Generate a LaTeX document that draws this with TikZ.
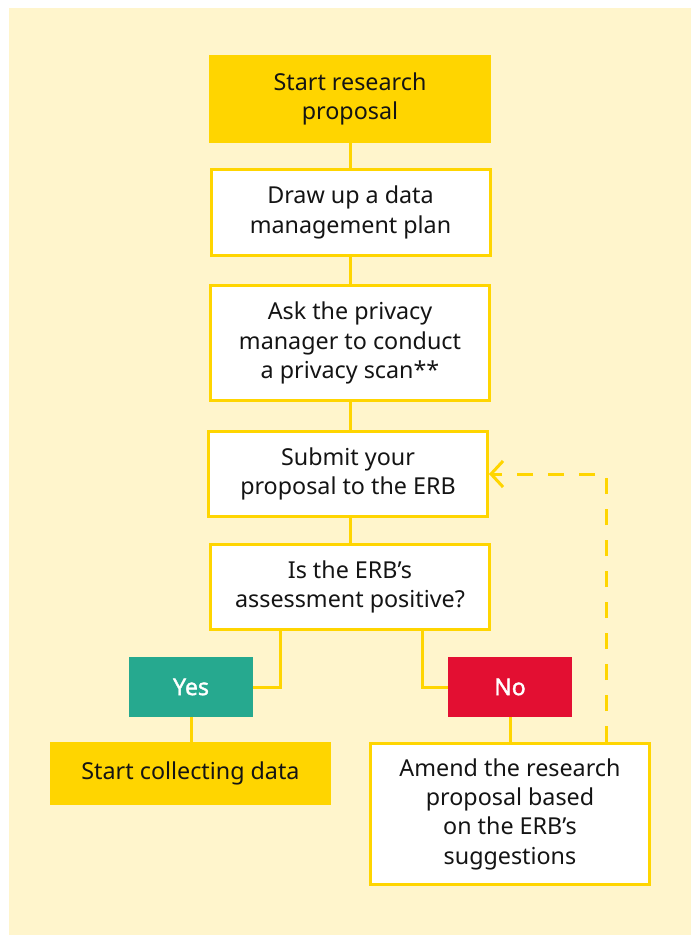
\documentclass[tikz,border=0pt]{standalone}
\usepackage{fontspec}
\setmainfont{Noto Sans}
\newfontfamily\tagfont[FakeBold=1.6]{Noto Sans}
\usetikzlibrary{arrows.meta}
\definecolor{cream}{HTML}{FFF5CC}
\definecolor{gold}{HTML}{FFD500}
\definecolor{teal}{HTML}{26A98F}
\definecolor{redbox}{HTML}{E30F32}
\definecolor{ink}{HTML}{141414}
\begin{document}
\begin{tikzpicture}[x=1pt,y=-1pt,
  every node/.style={font=\fontsize{23.3}{29.3}\selectfont, text=ink, align=center, inner sep=0pt},
  goldbox/.style={fill=gold, minimum width=282pt},
  whitebox/.style={fill=white, draw=gold, line width=3pt, minimum width=279pt},
  tagbox/.style={minimum width=124pt, minimum height=60pt, text=white, font=\fontsize{23}{28}\selectfont\tagfont},
  link/.style={draw=gold, line width=3pt},
  back/.style={draw=gold, line width=3pt, dash pattern=on 16pt off 15pt, -{Straight Barb[length=12pt,width=26pt,line width=3pt]}}
]
\useasboundingbox (0,0) rectangle (691,935);
\fill[white] (0,0) rectangle (691,935);
\fill[cream] (9,8) rectangle (691,935);

\node[goldbox, minimum height=88pt] (start) at (350,99) {Start research\\proposal};
\node[whitebox, minimum height=86pt] (dmp) at (350.5,212.5) {Draw up a data\\management plan};
\node[whitebox, minimum height=115pt] (scan) at (350,343) {Ask the privacy\\manager to conduct\\a privacy scan**};
\node[whitebox, minimum height=85pt] (submit) at (348,474) {Submit your\\proposal to the ERB};
\node[whitebox, minimum height=85pt] (assess) at (350,587) {Is the ERB’s\\assessment positive?};
\node[tagbox, fill=teal] (yes) at (191,687) {Yes};
\node[tagbox, fill=redbox] (no) at (510,687) {No};
\node[goldbox, minimum width=281pt, minimum height=63pt] (collect) at (190.5,773.5) {Start collecting data};
\node[whitebox, minimum height=141pt] (amend) at (510,814) {Amend the research\\proposal based\\on the ERB’s\\suggestions};

\coordinate (yesdrop) at (280,631);
\coordinate (nodrop) at (422,631);
\coordinate (backup) at (606,742);

\path[link] (start.south) -- (start.south |- dmp.north);
\path[link] (dmp.south) -- (dmp.south |- scan.north);
\path[link] (scan.south) -- (scan.south |- submit.north);
\path[link] (submit.south -| assess.north) -- (assess.north);
\path[link] (yesdrop) |- (yes.east);
\path[link] (nodrop) |- (no.west);
\path[link] (yes.south) -- (yes.south |- collect.north);
\path[link] (no.south) -- (amend.north);
\path[back] (backup) |- (submit.east);
\end{tikzpicture}
\end{document}
